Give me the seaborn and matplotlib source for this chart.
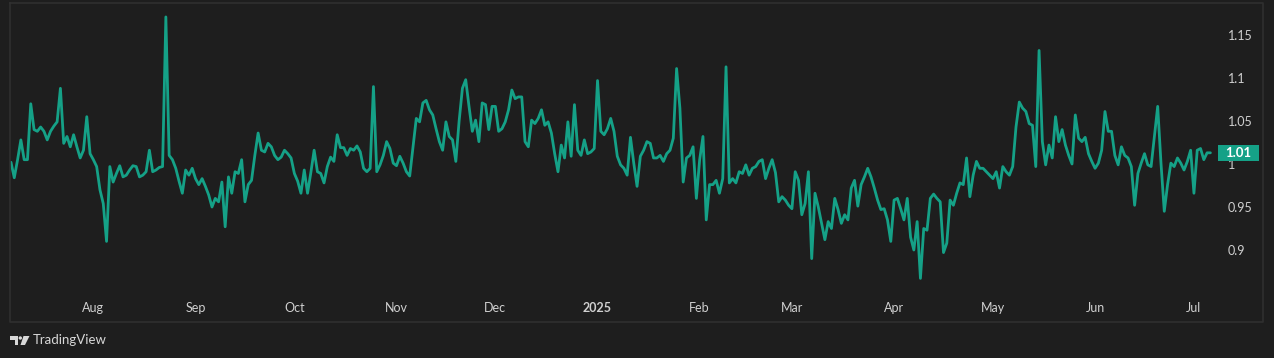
import matplotlib
matplotlib.use('Agg')
import matplotlib.pyplot as plt
import matplotlib.dates as mdates
from matplotlib.patches import Polygon, Ellipse, Rectangle
from matplotlib.lines import Line2D
import pandas as pd
import seaborn as sns

# daily values, 2024-07-07 .. 2025-07-06
start_date = '2024-07-07'
ratio = [
    1.002, 0.984, 1.005, 1.028, 1.005, 1.005, 1.070, 1.040, 1.038, 1.043, 1.038, 1.028, 1.038, 1.044, 1.049,
    1.088, 1.024, 1.032, 1.020, 1.034, 1.020, 1.007, 1.016, 1.055, 1.012, 1.005, 0.997, 0.970, 0.954, 0.910,
    0.997, 0.979, 0.989, 0.998, 0.985, 0.987, 0.993, 0.998, 0.997, 0.985, 0.987, 0.991, 1.016, 0.991, 0.993,
    0.996, 0.997, 1.171, 1.010, 1.005, 0.995, 0.980, 0.966, 0.993, 0.987, 0.995, 0.983, 0.976, 0.983, 0.974,
    0.964, 0.950, 0.960, 0.956, 0.979, 0.927, 0.985, 0.966, 0.991, 0.989, 1.005, 0.956, 0.976, 0.981, 1.010,
    1.036, 1.016, 1.014, 1.024, 1.020, 1.010, 1.005, 1.008, 1.016, 1.012, 1.007, 0.989, 0.980, 0.966, 0.993,
    0.966, 0.990, 1.016, 0.991, 0.989, 0.978, 0.997, 1.008, 1.003, 1.034, 1.019, 1.019, 1.010, 1.018, 1.016,
    1.021, 1.014, 0.995, 0.991, 0.995, 1.090, 0.991, 0.999, 1.010, 1.026, 1.018, 1.001, 0.998, 1.009, 1.001,
    0.991, 0.986, 1.020, 1.053, 1.049, 1.071, 1.074, 1.063, 1.057, 1.041, 1.026, 1.016, 1.049, 1.032, 1.028,
    1.003, 1.050, 1.088, 1.098, 1.067, 1.038, 1.051, 1.026, 1.071, 1.069, 1.040, 1.067, 1.067, 1.038, 1.041,
    1.049, 1.063, 1.086, 1.076, 1.078, 1.078, 1.026, 1.020, 1.051, 1.047, 1.053, 1.063, 1.045, 1.049, 1.036,
    1.012, 0.991, 1.022, 1.007, 1.049, 1.009, 1.069, 1.016, 1.010, 1.028, 1.012, 1.014, 1.018, 1.097, 1.038,
    1.034, 1.041, 1.053, 1.038, 1.009, 0.999, 0.995, 0.987, 1.031, 1.001, 0.974, 1.009, 1.016, 1.026, 1.024,
    1.007, 1.007, 1.010, 1.003, 1.012, 1.016, 1.030, 1.111, 1.065, 0.979, 1.007, 1.010, 1.020, 0.960, 1.005,
    1.032, 0.935, 0.976, 0.976, 0.981, 0.966, 0.983, 1.113, 0.978, 0.983, 0.978, 0.991, 0.989, 0.999, 0.987,
    0.995, 0.997, 1.003, 1.005, 0.983, 0.995, 1.005, 0.990, 0.956, 0.962, 0.958, 0.952, 0.948, 0.991, 0.981,
    0.941, 0.954, 0.991, 0.890, 0.966, 0.950, 0.931, 0.912, 0.933, 0.925, 0.960, 0.947, 0.931, 0.941, 0.935,
    0.972, 0.981, 0.951, 0.976, 0.985, 0.995, 0.985, 0.972, 0.958, 0.947, 0.948, 0.935, 0.910, 0.958, 0.960,
    0.948, 0.935, 0.960, 0.915, 0.900, 0.933, 0.867, 0.925, 0.923, 0.960, 0.965, 0.960, 0.956, 0.897, 0.908,
    0.958, 0.952, 0.966, 0.978, 0.976, 1.007, 0.962, 0.987, 1.003, 0.995, 0.995, 0.991, 0.987, 0.983, 0.991,
    0.972, 0.997, 0.991, 0.987, 0.997, 1.043, 1.072, 1.065, 1.061, 1.047, 1.045, 0.997, 1.132, 1.026, 0.999,
    1.022, 1.007, 1.055, 1.026, 1.040, 1.022, 1.010, 1.000, 1.057, 1.030, 1.026, 1.031, 1.012, 1.003, 0.995,
    1.001, 1.016, 1.061, 1.038, 1.038, 1.010, 0.999, 1.020, 1.010, 1.007, 0.997, 0.952, 0.989, 1.001, 1.012,
    0.999, 0.997, 1.032, 1.067, 1.001, 0.945, 0.976, 1.001, 0.997, 1.007, 1.001, 0.993, 1.003, 1.016, 0.966,
    1.016, 1.018, 1.005, 1.013, 1.013,
]
y_ticks = [0.9, 0.95, 1.0, 1.05, 1.1, 1.15]
y_tick_labels = ['0.9', '0.95', '1', '1.05', '1.1', '1.15']
month_labels = ['Aug', 'Sep', 'Oct', 'Nov', 'Dec', '2025', 'Feb', 'Mar', 'Apr', 'May', 'Jun', 'Jul']

BG = '#1e1e1e'
LINE = '#15a187'
TXT = '#d0d0d0'
FRAME = '#2f2f2f'
W, H = 1274, 358

sns.set_theme(style='dark', rc={'axes.facecolor': BG, 'figure.facecolor': BG})
plt.rcParams['font.family'] = ['Lato', 'DejaVu Sans']

df = pd.DataFrame({'date': pd.date_range(start_date, periods=len(ratio), freq='D'),
                   'ratio': ratio})

fig = plt.figure(figsize=(W / 100, H / 100), dpi=100)
ax = fig.add_axes([10 / W, 62 / H, (1217 - 10) / W, 293 / H])
sns.lineplot(data=df, x='date', y='ratio', ax=ax, color=LINE, linewidth=2.0)

t0 = mdates.date2num(df['date'].iloc[0])
ax.set_xlim(t0 - 0.3, t0 + 366.0)
ax.set_ylim(0.8465, 1.1872)

month_ticks = pd.date_range('2024-08-01', '2025-07-01', freq='MS')
ax.set_xticks(mdates.date2num(month_ticks))
ax.set_xticklabels(month_labels)
ax.get_xticklabels()[5].set_fontweight('bold')
ax.yaxis.tick_right()
ax.set_yticks(y_ticks)
ax.set_yticklabels(y_tick_labels)
ax.tick_params(axis='x', length=0, pad=4, labelsize=9, labelcolor=TXT)
ax.tick_params(axis='y', length=0, pad=8, labelsize=9, labelcolor=TXT)
ax.set_xlabel('')
ax.set_ylabel('')
ax.grid(False)
for s in ax.spines.values():
    s.set_visible(False)

# last value badge on the price scale
last = ratio[-1]
ax.add_patch(Rectangle((1.0005, last - 0.0093), 0.034, 0.0186, transform=ax.get_yaxis_transform(),
                       facecolor=LINE, edgecolor='none', clip_on=False, zorder=5))
ax.text(1.0175, last, f'{last:.2f}', transform=ax.get_yaxis_transform(), ha='center', va='center',
        color='white', fontsize=9.5, fontweight='bold', zorder=6)

# pane frame
def fp(px, py):
    return px / W, 1 - py / H

fx, fy = zip(*[fp(10, 3), fp(10, 322), fp(1263, 322), fp(1263, 3), fp(10, 3)])
fig.add_artist(Line2D(fx, fy, transform=fig.transFigure, color=FRAME, lw=1.2))

# TradingView watermark
logo_col = '#d8d8d8'
fig.add_artist(Polygon([fp(10, 336), fp(18, 336), fp(18, 345), fp(14.5, 345), fp(14.5, 339.5), fp(10, 339.5)],
                       closed=True, transform=fig.transFigure, fc=logo_col, ec='none'))
fig.add_artist(Ellipse(fp(20.3, 338), 3.4 / W, 3.4 / H, transform=fig.transFigure, fc=logo_col, ec='none'))
fig.add_artist(Polygon([fp(23.5, 336), fp(29.5, 336), fp(25, 345), fp(20.5, 345)],
                       closed=True, transform=fig.transFigure, fc=logo_col, ec='none'))
fig.text(33 / W, 1 - 340.5 / H, 'TradingView', color=logo_col, fontsize=9.5, ha='left', va='center')

fig.savefig('out.png', dpi=100, facecolor=BG)
